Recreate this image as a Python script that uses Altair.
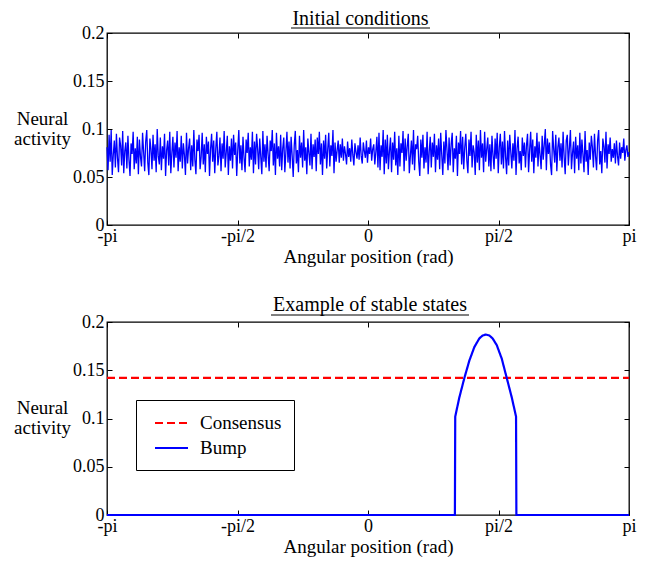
import altair as alt
import numpy as np
import pandas as pd

PI = float(np.pi)
FONT = "Liberation Serif"

# ---- axis ticks / labels ----
x_ticks = [-PI, -PI / 2, 0.0, PI / 2, PI]
x_tick_labels = ["-pi", "-pi/2", "0", "pi/2", "pi"]
y_ticks = [0, 0.05, 0.1, 0.15, 0.2]

panel_titles = ["Initial conditions", "Example of stable states"]
x_title = "Angular position (rad)"
y_title = ["Neural", "activity"]

# ---- top panel: noisy initial activity (thousandths) ----
noise_milli = [
    81, 57, 94, 66, 99, 52, 73, 88, 60, 95, 70, 55, 91, 83, 62, 98, 54, 77, 86, 59,
    93, 68, 51, 85, 74, 97, 58, 80, 64, 92, 53, 89, 71, 61, 96, 76, 56, 87, 99, 65,
    52, 90, 79, 58, 94, 67, 84, 55, 100, 72, 63, 91, 57, 82, 69, 95, 51, 78, 88, 62,
    97, 54, 75, 92, 60, 86, 70, 98, 56, 81, 66, 93, 59, 85, 73, 52, 96, 64, 80, 90,
    57, 83, 61, 99, 68, 53, 89, 77, 94, 58, 71, 96, 63, 84, 55, 92, 74, 87, 51, 79,
    95, 66, 88, 54, 80, 97, 62, 72, 91, 56, 85, 69, 98, 60, 76, 93, 52, 82, 67, 90,
    59, 94, 73, 86, 51, 78, 99, 64, 83, 57, 92, 70, 55, 89, 75, 96, 61, 81, 68, 97,
    54, 87, 63, 95, 79, 58, 90, 71, 53, 98, 66, 84, 60, 93, 74, 56, 88, 77, 99, 62,
    85, 52, 96, 69, 82, 61, 94, 57, 80, 91, 55, 76, 97, 65, 87, 59, 92, 72, 50, 83,
    98, 64, 78, 55, 93, 70, 86, 60, 99, 67, 81, 53, 90, 75, 62, 95, 58, 84, 71, 89,
    56, 91, 74, 97, 63, 85, 52, 88, 69, 94, 59, 79, 96, 61, 83, 72, 99, 54, 86, 66,
    78, 88, 65, 84, 70, 90, 67, 82, 74, 63, 87, 71, 80, 66, 89, 73, 62, 85, 76, 69,
    83, 68, 91, 72, 64, 86, 77, 70, 88, 65, 81, 74, 90, 67, 79, 84, 63, 76, 92, 60,
    96, 57, 83, 71, 99, 53, 89, 64, 94, 58, 77, 91, 55, 86, 68, 97, 62, 80, 52, 93,
    61, 85, 75, 98, 56, 90, 67, 82, 95, 54, 72, 88, 63, 99, 57, 84, 79, 93, 66, 51,
    89, 70, 94, 59, 81, 65, 97, 53, 76, 92, 60, 86, 71, 95, 55, 83, 68, 90, 58, 96,
    73, 52, 87, 64, 99, 78, 57, 91, 62, 84, 96, 55, 80, 69, 93, 51, 86, 74, 98, 63,
    92, 58, 81, 95, 67, 54, 89, 72, 97, 60, 83, 76, 52, 94, 65, 88, 57, 99, 70, 85,
    55, 97, 66, 79, 91, 61, 84, 56, 93, 73, 58, 90, 69, 96, 54, 81, 95, 63, 87, 59,
    98, 71, 53, 88, 62, 94, 76, 59, 85, 67, 99, 52, 80, 92, 64, 77, 57, 91, 72, 86,
    60, 83, 95, 55, 78, 97, 66, 89, 54, 82, 70, 96, 61, 87, 73, 58, 93, 68, 84, 100,
    57, 90, 74, 86, 63, 52, 98, 79, 65, 94, 56, 81, 91, 67, 85, 60, 97, 71, 53, 88,
    94, 62, 80, 99, 58, 75, 87, 54, 92, 69, 83, 57, 96, 64, 89, 73, 55, 98, 66, 78,
    52, 86, 68, 93, 81, 60, 95, 72, 57, 88, 99, 63, 77, 54, 90, 82, 65, 97, 59, 84,
    74, 91, 66, 79, 70, 85, 64, 88, 72, 62, 86, 69, 81, 75, 90, 67, 78, 83, 71, 76,
]

# ---- bottom panel: stable states ----
bump_x = [-PI, 1.046, 1.048, 1.050, 1.10, 1.16, 1.22, 1.28, 1.34, 1.38, 1.42,
          1.46, 1.50, 1.55, 1.61, 1.67, 1.73, 1.782, 1.784, 1.786, PI]
bump_y = [0.0, 0.0, 0.052, 0.102, 0.122, 0.142, 0.160, 0.174, 0.183, 0.186, 0.187,
          0.186, 0.183, 0.176, 0.162, 0.142, 0.122, 0.102, 0.052, 0.0, 0.0]
consensus_x = [-PI, PI]
consensus_y = [0.142, 0.142]
series_names = ["Consensus", "Bump"]
series_colors = ["#ff0000", "#0000ff"]
series_dash = [[8, 4], [1, 0]]

# ---- tables ----
df_noise = pd.DataFrame({
    "x": np.linspace(-PI, PI, len(noise_milli)),
    "y": [v / 1000 for v in noise_milli],
})
df_states = pd.concat([
    pd.DataFrame({"x": consensus_x, "y": consensus_y, "series": "Consensus",
                  "ord": range(len(consensus_x))}),
    pd.DataFrame({"x": bump_x, "y": bump_y, "series": "Bump",
                  "ord": range(len(bump_x))}),
], ignore_index=True)

label_expr = " : ".join(
    f"abs(datum.value - ({t})) < 0.01 ? '{l}'" for t, l in zip(x_ticks, x_tick_labels)
) + " : ''"

xscale = alt.Scale(domain=[-PI, PI], nice=False, zero=False)
yscale = alt.Scale(domain=[0, 0.2], nice=False, zero=False)

W, H = 522, 192
TICK = 5

x_bottom = alt.Axis(values=x_ticks, labelExpr=label_expr, title=x_title, orient="bottom",
                    offset=-TICK, tickSize=TICK, domain=False, grid=False,
                    labelPadding=2, titlePadding=2, labelFlush=False)
y_left = alt.Axis(values=y_ticks, format="~g", title=y_title, orient="left",
                  offset=-TICK, tickSize=TICK, domain=False, grid=False,
                  labelPadding=3, titleAngle=0, titleAlign="center",
                  titleBaseline="middle", titleX=-70, titleY=85, titleLineHeight=20)
x_top = alt.Axis(values=x_ticks, orient="top", labels=False, title=None,
                 offset=-TICK, tickSize=TICK, domain=False, grid=False)
y_right = alt.Axis(values=y_ticks, orient="right", labels=False, title=None,
                   offset=-TICK, tickSize=TICK, domain=False, grid=False)


def panel(main, df_frame, title, cx, tw, ty, uy, h):
    frame = alt.Chart(df_frame).mark_point(opacity=0).encode(
        x=alt.X("x:Q", scale=xscale, axis=x_top),
        y=alt.Y("y:Q", scale=yscale, axis=y_right),
    )
    tdata = alt.Data(values=[{"t": title}])
    ttext = alt.Chart(tdata).mark_text(
        font=FONT, fontSize=20, align="center", baseline="alphabetic", color="black"
    ).encode(text="t:N", x=alt.value(cx), y=alt.value(ty))
    uline = alt.Chart(tdata).mark_rule(color="black", strokeWidth=1).encode(
        x=alt.value(cx - tw / 2), x2=alt.value(cx + tw / 2), y=alt.value(uy)
    )
    return alt.layer(main, frame, ttext, uline).resolve_axis(
        x="independent", y="independent"
    ).properties(width=W, height=h)


top_line = alt.Chart(df_noise).mark_line(color="#0000ff", strokeWidth=1.3).encode(
    x=alt.X("x:Q", scale=xscale, axis=x_bottom),
    y=alt.Y("y:Q", scale=yscale, axis=y_left),
)

legend = alt.Legend(title=None, orient="none", legendX=29, legendY=367,
                    fillColor="white", strokeColor="black", padding=12,
                    symbolType="M-1.65,0H1.65", symbolSize=400, symbolStrokeWidth=2,
                    symbolFillColor="transparent",
                    symbolOffset=12.5, labelOffset=17.5, labelFont=FONT,
                    labelFontSize=19, labelColor="black", rowPadding=4,
                    labelLimit=0)

bottom_line = alt.Chart(df_states).mark_line(strokeWidth=2.2).encode(
    x=alt.X("x:Q", scale=xscale, axis=x_bottom),
    y=alt.Y("y:Q", scale=yscale, axis=y_left),
    color=alt.Color("series:N", scale=alt.Scale(domain=series_names, range=series_colors),
                    legend=legend),
    strokeDash=alt.StrokeDash("series:N",
                              scale=alt.Scale(domain=series_names, range=series_dash),
                              legend=legend),
    order="ord:Q",
)

top = panel(top_line, df_noise, panel_titles[0], 253.5, 139, -8, -5, H)
bottom = panel(bottom_line, df_states, panel_titles[1], 263, 198, -11.5, -7, 193)

chart = alt.vconcat(top, bottom, spacing=26).properties(
    padding={"left": 4, "top": 0, "right": 0, "bottom": 0}
).configure_view(
    stroke="black", strokeWidth=1.3
).configure_axis(
    labelFont=FONT, labelFontSize=18, labelColor="black",
    titleFont=FONT, titleFontSize=19, titleFontWeight="normal", titleColor="black",
    tickColor="black", tickWidth=1
)

chart.save("out.html", embed_options={"renderer": "svg", "actions": False})
